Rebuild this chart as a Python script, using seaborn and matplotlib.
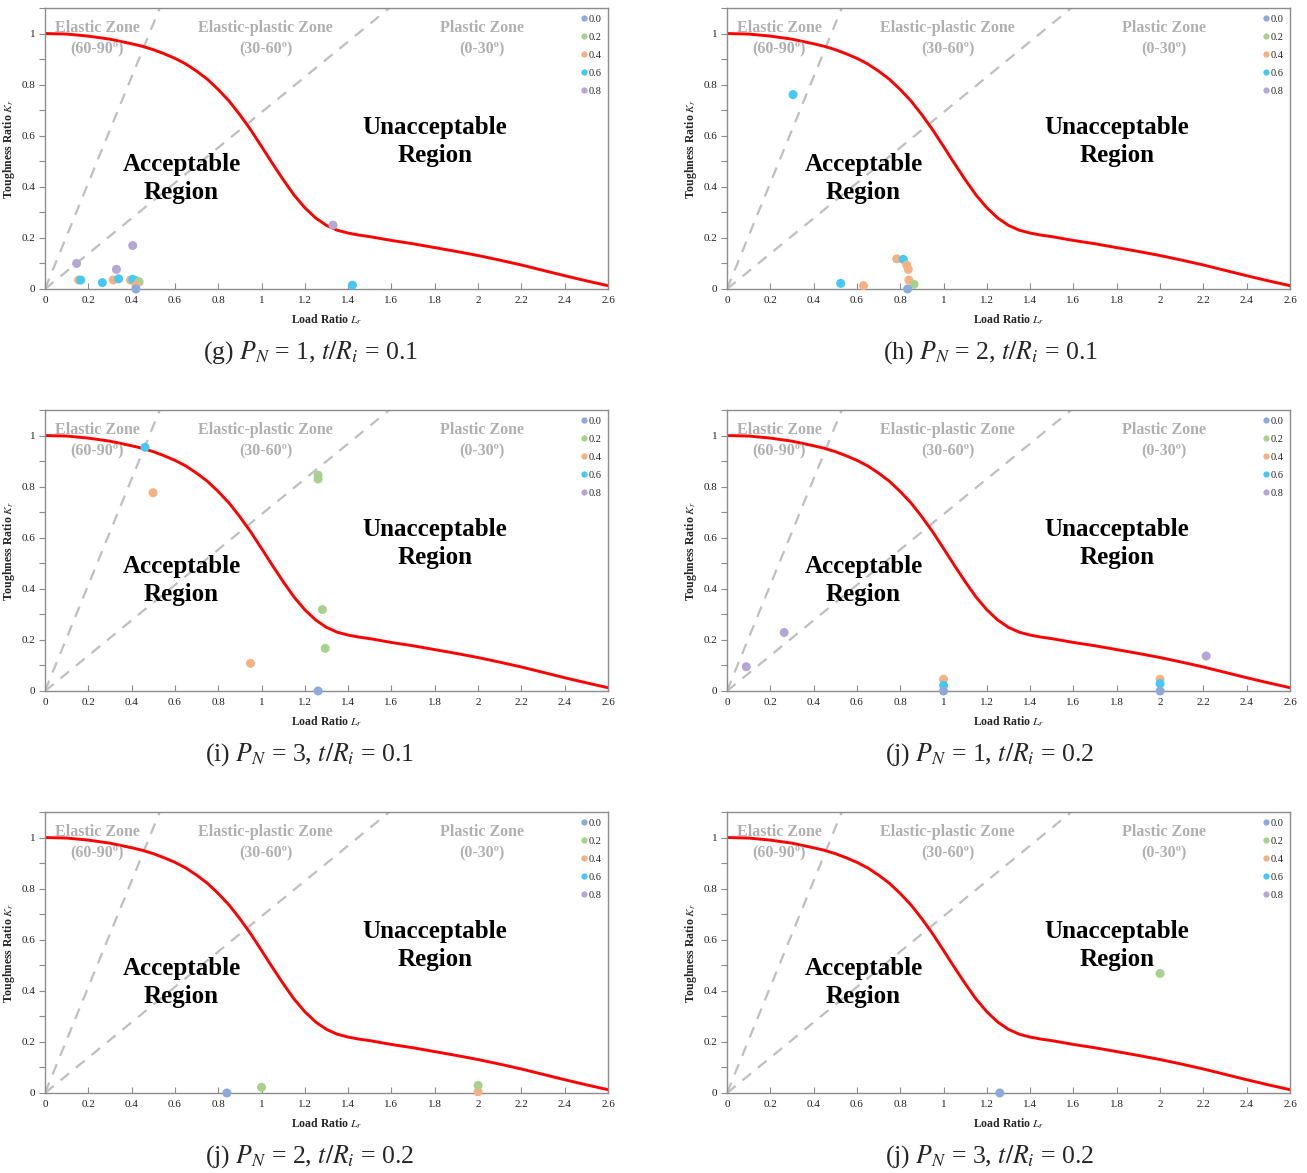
import numpy as np
import pandas as pd
import matplotlib
matplotlib.use("Agg")
import matplotlib.pyplot as plt
import seaborn as sns
from matplotlib.lines import Line2D
from matplotlib.ticker import MultipleLocator, FuncFormatter

sns.set_theme(style="white")
plt.rcParams['font.family'] = ['Liberation Serif', 'DejaVu Serif']
plt.rcParams['mathtext.fontset'] = 'stix'

# ---------------- data ----------------
group_levels = ["0.0", "0.2", "0.4", "0.6", "0.8"]
group_colors = ["#8EA9DB", "#A9D18E", "#F4B183", "#45C8F5", "#B4A7D6"]

# failure assessment curve
curve_lr = [0.0, 0.1, 0.2, 0.3, 0.4, 0.45, 0.5, 0.55, 0.6, 0.65, 0.7, 0.75, 0.8, 0.85, 0.9,
            0.95, 1.0, 1.05, 1.1, 1.15, 1.2, 1.25, 1.3, 1.35, 1.4, 1.45, 1.5, 1.6, 1.7, 1.8,
            1.9, 2.0, 2.1, 2.2, 2.3, 2.4, 2.5, 2.6]
curve_kr = [1.000, 0.998, 0.990, 0.978, 0.960, 0.950, 0.937, 0.921, 0.903, 0.881, 0.853, 0.821,
            0.781, 0.736, 0.682, 0.623, 0.558, 0.492, 0.428, 0.368, 0.318, 0.278, 0.249, 0.230,
            0.219, 0.211, 0.205, 0.190, 0.177, 0.162, 0.147, 0.131, 0.113, 0.094, 0.073, 0.052,
            0.032, 0.013]

# zone boundary lines (dashed)
steep_line_lr = [0.0, 0.53]
steep_line_kr = [0.0, 1.1]
shallow_line_lr = [0.0, 1.59]
shallow_line_kr = [0.0, 1.1]

# panel (g)
g_lr = [0.146, 0.330, 0.405, 0.155, 0.165, 0.265, 0.315, 0.340, 0.395, 0.405, 0.420, 0.435, 0.420, 0.420, 1.330, 1.420]
g_kr = [0.100, 0.077, 0.170, 0.035, 0.035, 0.025, 0.035, 0.040, 0.035, 0.038, 0.032, 0.028, 0.015, 0.000, 0.250, 0.015]
g_grp = ["0.8", "0.8", "0.8", "0.4", "0.6", "0.6", "0.4", "0.6", "0.4", "0.6", "0.6", "0.2", "0.4", "0.0", "0.8", "0.6"]

# panel (h)
h_lr = [0.305, 0.525, 0.630, 0.784, 0.814, 0.830, 0.837, 0.840, 0.864, 0.834]
h_kr = [0.761, 0.022, 0.013, 0.118, 0.116, 0.094, 0.077, 0.035, 0.018, 0.000]
h_grp = ["0.6", "0.6", "0.4", "0.4", "0.6", "0.4", "0.4", "0.4", "0.2", "0.0"]

# panel (i)
i_lr = [0.462, 0.499, 1.261, 1.261, 1.281, 1.294, 0.949, 1.261]
i_kr = [0.954, 0.776, 0.845, 0.830, 0.319, 0.167, 0.108, 0.000]
i_grp = ["0.6", "0.4", "0.2", "0.2", "0.2", "0.2", "0.4", "0.0"]

# panel (j) PN=1, t/Ri=0.2
j1_lr = [0.089, 0.264, 2.213, 1.0, 1.0, 1.0, 2.0, 2.0, 2.0]
j1_kr = [0.095, 0.229, 0.137, 0.046, 0.022, 0.000, 0.046, 0.029, 0.000]
j1_grp = ["0.8", "0.8", "0.8", "0.4", "0.6", "0.0", "0.4", "0.6", "0.0"]

# panel (j) PN=2, t/Ri=0.2
j2_lr = [0.84, 1.00, 2.00, 2.00]
j2_kr = [0.000, 0.022, 0.005, 0.030]
j2_grp = ["0.0", "0.2", "0.4", "0.2"]

# panel (j) PN=3, t/Ri=0.2
j3_lr = [2.00, 1.26]
j3_kr = [0.468, 0.000]
j3_grp = ["0.2", "0.0"]

captions = [r"(g) $P_N$ = 1, $t/R_i$ = 0.1", r"(h) $P_N$ = 2, $t/R_i$ = 0.1",
            r"(i) $P_N$ = 3, $t/R_i$ = 0.1", r"(j) $P_N$ = 1, $t/R_i$ = 0.2",
            r"(j) $P_N$ = 2, $t/R_i$ = 0.2", r"(j) $P_N$ = 3, $t/R_i$ = 0.2"]

panels = [(g_lr, g_kr, g_grp), (h_lr, h_kr, h_grp), (i_lr, i_kr, i_grp),
          (j1_lr, j1_kr, j1_grp), (j2_lr, j2_kr, j2_grp), (j3_lr, j3_kr, j3_grp)]

# ---------------- layout ----------------
W, H = 1307, 1173
fig = plt.figure(figsize=(W / 100, H / 100), dpi=100)
col_left = [45, 727]
ax_w = 563
row_top = [8, 410, 812]
ax_h = 281
cap_x = [310, 990]
cap_y = [353, 755, 1157]

palette = dict(zip(group_levels, group_colors))
zone_gray = "#B0B0B0"
spine_gray = "#8C8C8C"

for k, (lr, kr, grp) in enumerate(panels):
    r, c = divmod(k, 2)
    ax = fig.add_axes([col_left[c] / W, 1 - (row_top[r] + ax_h) / H, ax_w / W, ax_h / H])
    df = pd.DataFrame({"Lr": lr, "Kr": kr, "group": grp})

    ax.plot(steep_line_lr, steep_line_kr, ls=(0, (5, 4)), color="#BFBFBF", lw=1.6, zorder=1)
    ax.plot(shallow_line_lr, shallow_line_kr, ls=(0, (5, 4)), color="#BFBFBF", lw=1.6, zorder=1)
    sns.lineplot(x=curve_lr, y=curve_kr, ax=ax, color="#FF0000", lw=2.1, sort=False,
                 estimator=None, zorder=2)
    sns.scatterplot(data=df, x="Lr", y="Kr", hue="group", hue_order=group_levels,
                    palette=palette, s=42, edgecolor="none", ax=ax, legend=False, zorder=3,
                    clip_on=False)

    ax.set_xlim(0, 2.6)
    ax.set_ylim(0, 1.1)
    ax.xaxis.set_major_locator(MultipleLocator(0.2))
    ax.yaxis.set_major_locator(MultipleLocator(0.2))
    ax.yaxis.set_minor_locator(MultipleLocator(0.1))
    fmt = FuncFormatter(lambda v, p: "%g" % round(v, 2))
    ax.xaxis.set_major_formatter(fmt)
    ax.yaxis.set_major_formatter(fmt)
    ax.tick_params(axis="x", which="major", direction="in", length=4, width=0.8,
                   color=spine_gray, labelsize=8, pad=5, labelcolor="#222222", bottom=True)
    ax.tick_params(axis="y", which="both", direction="out", length=4, width=0.8,
                   color=spine_gray, labelsize=8, pad=3, labelcolor="#222222", left=True)
    for sp in ax.spines.values():
        sp.set_color(spine_gray)
        sp.set_linewidth(1.0)

    ax.set_xlabel(r"Load Ratio $L_r$", fontsize=8.5, fontweight="bold")
    ax.set_ylabel(r"Toughness Ratio $K_r$", fontsize=8.5, fontweight="bold")
    ax.xaxis.set_label_coords(0.5, -0.085)
    ax.yaxis.set_label_coords(-0.05, 0.5)

    zkw = dict(fontsize=11.5, fontweight="bold", color=zone_gray, ha="center", va="center",
               linespacing=1.45)
    ax.text(0.24, 0.978, "Elastic Zone\n(60-90º)", **zkw)
    ax.text(1.02, 0.978, "Elastic-plastic Zone\n(30-60º)", **zkw)
    ax.text(2.02, 0.978, "Plastic Zone\n(0-30º)", **zkw)
    rkw = dict(fontsize=18, fontweight="bold", color="black", ha="center", va="center",
               linespacing=1.3)
    ax.text(0.63, 0.432, "Acceptable\nRegion", **rkw)
    ax.text(1.80, 0.577, "Unacceptable\nRegion", **rkw)

    handles = [Line2D([], [], marker="o", ls="none", color=col, markersize=4.5,
                      markeredgewidth=0) for col in group_colors]
    ax.legend(handles, group_levels, loc="upper right", bbox_to_anchor=(1.0, 1.0),
              frameon=False, fontsize=7.5, handlelength=0.6, handletextpad=0.15,
              labelspacing=0.85, borderaxespad=0.2)

    fig.text(cap_x[c] / W, 1 - cap_y[r] / H, captions[k], fontsize=18.5, ha="center",
             va="center")

fig.savefig("out.png", dpi=100)
